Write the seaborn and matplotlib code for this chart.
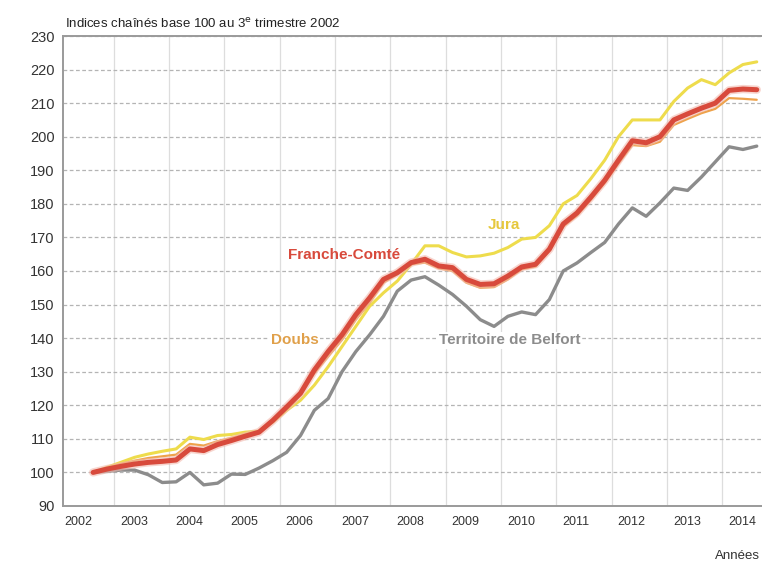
import numpy as np
import pandas as pd
import matplotlib
matplotlib.use("Agg")
import matplotlib.pyplot as plt
import seaborn as sns

# quarterly values, 2002 Q3 -> 2014 Q3
start_year = 2002
start_quarter = 3
franche_comte = [100, 101, 101.8, 102.5, 103, 103.3, 103.7, 107, 106.5, 108.3, 109.5, 110.8,
                 112, 115.5, 119.5, 123.6, 130.5, 136, 141, 147, 152, 157.5, 159.5, 162.5,
                 163.5, 161.5, 161, 157.5, 156, 156.2, 158.5, 161.2, 162, 166.5, 174, 177.3,
                 182, 187, 193, 198.8, 198.2, 200, 205, 206.8, 208.5, 210, 213.8, 214.2, 214]
doubs = [100, 101.3, 102.5, 103.5, 104.3, 104.8, 105.3, 108.5, 108, 109.3, 110.3, 111.3,
         112.3, 115.5, 119.3, 123, 129.5, 134.5, 139.5, 145.5, 150.5, 156.5, 159, 162,
         162.5, 160.8, 160, 156.5, 155, 155.2, 157.5, 160.5, 161.3, 166, 173.2, 176.5,
         181.2, 186.2, 192, 197.5, 197.2, 198.5, 203.5, 205.3, 207, 208.3, 211.5, 211.3, 211]
jura = [100, 101.5, 103, 104.5, 105.5, 106.3, 107, 110.5, 109.8, 111, 111.3, 112,
        112.3, 115, 118.5, 121.5, 126, 131.5, 137.5, 143.5, 149.5, 153.5, 157, 162,
        167.5, 167.5, 165.5, 164.2, 164.5, 165.3, 167, 169.5, 170, 173.5, 180, 182.5,
        187.5, 193, 200, 205, 205, 205, 210.5, 214.5, 217, 215.5, 219, 221.5, 222.3]
belfort = [100, 100.3, 100.7, 100.7, 99.3, 97, 97.2, 100, 96.3, 96.8, 99.5, 99.4,
           101.3, 103.5, 106, 111, 118.5, 122, 130, 136, 141, 146.5, 154, 157.3,
           158.3, 155.8, 153, 149.5, 145.5, 143.5, 146.5, 147.8, 147, 151.5, 160, 162.4,
           165.5, 168.5, 174, 178.8, 176.3, 180.3, 184.7, 184, 188, 192.5, 197, 196.2, 197.2]

years = list(range(2002, 2015))
year_labels = [str(y) for y in years]
y_ticks = list(range(90, 231, 10))

series_names = ["Territoire de Belfort", "Jura", "Doubs", "Franche-Comté"]
series_values = [belfort, jura, doubs, franche_comte]
colors = {"Franche-Comté": "#d84a3c", "Doubs": "#eea24a", "Jura": "#eedc4c",
          "Territoire de Belfort": "#8c8c8c"}
widths = {"Franche-Comté": 3.6, "Doubs": 1.6, "Jura": 2.2, "Territoire de Belfort": 2.4}

n = len(franche_comte)
qidx = np.arange(n) + (start_quarter - 1)
t = start_year + (qidx // 4) + ((qidx % 4) + 0.5) / 4.0

rows = []
for name, vals in zip(series_names, series_values):
    for ti, v in zip(t, vals):
        rows.append({"t": ti, "value": v, "zone": name})
df = pd.DataFrame(rows)

sns.set_theme(style="white")
plt.rcParams["font.family"] = ["Liberation Sans", "DejaVu Sans"]

fig = plt.figure(figsize=(7.62, 5.66), dpi=100)
ax = fig.add_axes([63 / 762, 60 / 566, 699 / 762, 470 / 566])

for name in series_names:
    sub = df[df["zone"] == name]
    if name == "Franche-Comté":
        sns.lineplot(data=sub, x="t", y="value", ax=ax, color="#f3b9ae",
                     linewidth=6.0, alpha=0.6, legend=False)
    sns.lineplot(data=sub, x="t", y="value", ax=ax, color=colors[name],
                 linewidth=widths[name], legend=False)

ax.set_xlim(2002.08, 2014.72)
ax.set_ylim(90, 230)
ax.set_yticks(y_ticks)
ax.set_yticklabels([str(v) for v in y_ticks], fontsize=10.5, color="#333333")
ax.set_xticks([y + 0.36 for y in years])
ax.set_xticklabels(year_labels, fontsize=9, color="#333333")
ax.set_xticks(years[1:], minor=True)
ax.tick_params(axis="both", which="both", length=0)
ax.tick_params(axis="y", pad=6)
ax.tick_params(axis="x", pad=7)
ax.set_xlabel("")
ax.set_ylabel("")

ax.grid(False)
ax.grid(axis="y", which="major", color="#b4b4b4", linestyle=(0, (3, 2)), linewidth=0.9)
ax.grid(axis="x", which="minor", color="#dddddd", linestyle="-", linewidth=0.9)
ax.set_axisbelow(True)

for side in ["left", "bottom", "top"]:
    ax.spines[side].set_color("#9a9a9a")
    ax.spines[side].set_linewidth(1.4)
ax.spines["right"].set_visible(False)

# series labels
ax.text(2010.06, 173.6, "Jura", color="#e6c83c", fontsize=11, fontweight="bold",
        ha="center", va="center")
ax.text(2007.17, 164.8, "Franche-Comté", color="#d84a3c", fontsize=11, fontweight="bold",
        ha="center", va="center")
ax.text(2006.27, 139.4, "Doubs", color="#e0a04a", fontsize=11, fontweight="bold",
        ha="center", va="center",
        bbox=dict(facecolor="white", edgecolor="none", pad=1.0))
ax.text(2010.15, 139.4, "Territoire de Belfort", color="#8c8c8c", fontsize=11,
        fontweight="bold", ha="center", va="center",
        bbox=dict(facecolor="white", edgecolor="none", pad=1.0))

fig.text(65 / 762, 1 - 24 / 566, r"Indices chaînés base 100 au 3$^{\mathrm{e}}$ trimestre 2002",
         fontsize=9.5, color="#222222", ha="left", va="center")
fig.text(760 / 762, 1 - 556 / 566, "Années", fontsize=9.5, color="#333333",
         ha="right", va="center")

fig.savefig("out.png", dpi=100)
